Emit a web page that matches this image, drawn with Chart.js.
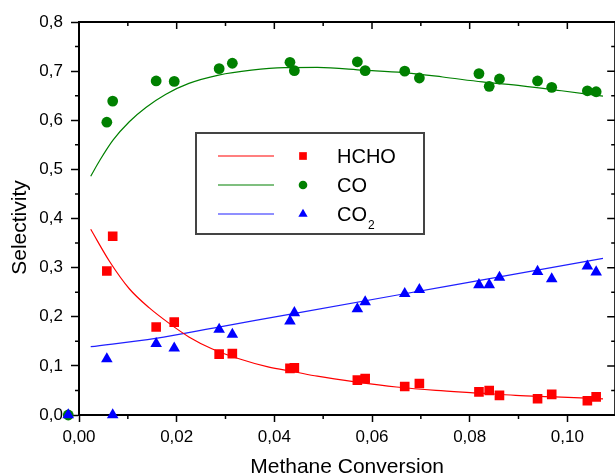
<!DOCTYPE html>
<html>
<head>
<meta charset="utf-8">
<script src="https://cdn.jsdelivr.net/npm/chart.js@4.4.1/dist/chart.umd.min.js"></script>
<style>
  html, body { margin: 0; padding: 0; background: #fff; overflow: hidden; }
  canvas { display: block; }
</style>
</head>
<body>
<canvas id="selChart" width="622" height="475"></canvas>
<script>
// measured runs; the last one sits just left of the y axis in the original plot
var conversion = [0.0057, 0.0069, 0.0158, 0.0195, 0.0287, 0.0314, 0.0432, 0.0441, 0.0570, 0.0586,
                  0.0667, 0.0697, 0.0819, 0.0840, 0.0861, 0.0939, 0.0968, 0.1041, 0.1059, -0.0022];
var hcho = [0.293, 0.364, 0.179, 0.189, 0.124, 0.125, 0.095, 0.096, 0.071, 0.074,
            0.058, 0.064, 0.047, 0.050, 0.040, 0.033, 0.042, 0.029, 0.037, null];
var co   = [0.596, 0.639, 0.680, 0.679, 0.705, 0.716, 0.718, 0.701, 0.719, 0.701,
            0.700, 0.686, 0.695, 0.669, 0.684, 0.680, 0.667, 0.660, 0.658, 0.0];
var co2  = [0.114, 0.0, 0.145, 0.136, 0.174, 0.164, 0.191, 0.208, 0.216, 0.230,
            0.247, 0.255, 0.265, 0.265, 0.280, 0.292, 0.277, 0.303, 0.291, 0.0];

// fitted curves
var hchoFitX = [0.0024, 0.0063, 0.0103, 0.0144, 0.0184, 0.0225, 0.0272, 0.0326, 0.0387, 0.0441,
                0.0488, 0.0569, 0.0650, 0.0731, 0.0813, 0.0894, 0.0975, 0.1073];
var hchoFitY = [0.378, 0.312, 0.257, 0.218, 0.187, 0.159, 0.135, 0.115, 0.098, 0.088,
                0.079, 0.067, 0.057, 0.050, 0.045, 0.040, 0.037, 0.033];
var coFitX = [0.0024, 0.0043, 0.0070, 0.0103, 0.0137, 0.0178, 0.0225, 0.0286, 0.0353, 0.0421,
              0.0488, 0.0583, 0.0664, 0.0745, 0.0826, 0.0907, 0.0988, 0.1073];
var coFitY = [0.486, 0.519, 0.560, 0.597, 0.626, 0.653, 0.675, 0.692, 0.702, 0.707,
              0.7075, 0.702, 0.697, 0.688, 0.678, 0.670, 0.660, 0.649];
var co2FitX = [0.0024, 0.0157, 0.0286, 0.0448, 0.0752, 0.1073];
var co2FitY = [0.139, 0.156, 0.179, 0.208, 0.262, 0.319];

var xTickLabels = ['0,00', '0,02', '0,04', '0,06', '0,08', '0,10'];
var yTickLabels = ['0,0', '0,1', '0,2', '0,3', '0,4', '0,5', '0,6', '0,7', '0,8'];
var seriesNames = ['HCHO', 'CO', 'CO2'];

var RED = '#ff0000', GREEN = '#008000', BLUE = '#0000ff';
var FONT = "'Liberation Sans', Arial, sans-serif";

function pts(xs, ys) {
  return xs.map(function (x, i) { return { x: x, y: ys[i] }; })
           .filter(function (p) { return p.y !== null; });
}

// top/right axes, minor ticks, y title and the boxed legend
var framePlugin = {
  id: 'frame',
  beforeDatasetsDraw: function (chart) {
    var ctx = chart.ctx, a = chart.chartArea;
    var xs = chart.scales.x, ys = chart.scales.y;
    ctx.save();
    ctx.strokeStyle = '#000';
    ctx.lineWidth = 2;
    ctx.beginPath();
    ctx.moveTo(a.left - 1, a.top); ctx.lineTo(a.right + 1, a.top);
    ctx.moveTo(a.right, a.top); ctx.lineTo(a.right, a.bottom);
    ctx.stroke();

    ctx.lineWidth = 1.5;
    ctx.beginPath();
    var xHalf = (xs.ticks[1].value - xs.ticks[0].value) / 2;
    xs.ticks.forEach(function (t) {
      var px = xs.getPixelForValue(t.value);
      ctx.moveTo(px, a.top); ctx.lineTo(px, a.top + 7);
      if (t.value + xHalf < xs.max) {
        var pm = xs.getPixelForValue(t.value + xHalf);
        ctx.moveTo(pm, a.top); ctx.lineTo(pm, a.top + 4);
        ctx.moveTo(pm, a.bottom); ctx.lineTo(pm, a.bottom + 4);
      }
    });
    var yHalf = (ys.ticks[1].value - ys.ticks[0].value) / 2;
    ys.ticks.forEach(function (t) {
      var py = ys.getPixelForValue(t.value);
      ctx.moveTo(a.right, py); ctx.lineTo(a.right - 8, py);
      if (t.value + yHalf < ys.max) {
        var pm = ys.getPixelForValue(t.value + yHalf);
        ctx.moveTo(a.left, pm); ctx.lineTo(a.left - 4, pm);
        ctx.moveTo(a.right, pm); ctx.lineTo(a.right - 4, pm);
      }
    });
    ctx.stroke();

    // y axis title
    ctx.translate(26, (a.top + a.bottom) / 2 + 9);
    ctx.rotate(-Math.PI / 2);
    ctx.fillStyle = '#000';
    ctx.font = '21px ' + FONT;
    ctx.textAlign = 'center';
    ctx.textBaseline = 'alphabetic';
    ctx.fillText('Selectivity', 0, 0);
    ctx.restore();
  },
  // Chart.js skips points outside the chart area; the original shows the
  // run left of the axis, so draw those elements here (CO below CO2)
  afterDatasetsDraw: function (chart) {
    var ctx = chart.ctx, xs = chart.scales.x;
    ctx.save();
    [1, 0, 2].forEach(function (di) {
      chart.getDatasetMeta(di).data.forEach(function (el) {
        if (el.x < xs.left - 1) {
          ctx.fillStyle = el.options.backgroundColor;
          Chart.helpers.drawPoint(ctx, el.options, el.x, el.y);
        }
      });
    });
    ctx.restore();
  },
  afterDraw: function (chart) {
    var ctx = chart.ctx;
    ctx.save();
    ctx.fillStyle = '#fff';
    ctx.fillRect(196, 133, 228, 101);
    ctx.strokeStyle = '#444';
    ctx.lineWidth = 2;
    ctx.strokeRect(196, 133, 228, 101);
    for (var i = 0; i < 3; i++) {
      var fit = chart.data.datasets[i + 3];
      var mark = chart.data.datasets[i];
      var y = 156 + i * 29;
      ctx.strokeStyle = fit.borderColor;
      ctx.lineWidth = 1.2;
      ctx.beginPath();
      ctx.moveTo(218, y); ctx.lineTo(274, y);
      ctx.stroke();
      ctx.fillStyle = mark.backgroundColor;
      Chart.helpers.drawPoint(ctx, {
        pointStyle: mark.pointStyle, radius: mark.pointRadius * 0.8,
        borderWidth: 0, rotation: 0
      }, 303, y);
      var name = seriesNames[i];
      var main = name.replace(/\d+$/, ''), sub = name.slice(main.length);
      ctx.fillStyle = '#000';
      ctx.font = '20px ' + FONT;
      ctx.textAlign = 'left';
      ctx.textBaseline = 'middle';
      ctx.fillText(main, 337, y + 1);
      if (sub) {
        var w = ctx.measureText(main).width;
        ctx.font = '12px ' + FONT;
        ctx.textBaseline = 'alphabetic';
        ctx.fillText(sub, 337 + w + 1, y + 15);
      }
    }
    ctx.restore();
  }
};

new Chart(document.getElementById('selChart'), {
  type: 'scatter',
  data: {
    datasets: [{
      label: seriesNames[0], data: pts(conversion, hcho), order: 1,
      pointStyle: 'rect', pointRadius: 6.8, backgroundColor: RED, borderWidth: 0
    }, {
      label: seriesNames[1], data: pts(conversion, co), order: 2, clip: false,
      pointStyle: 'circle', pointRadius: 5.4, backgroundColor: GREEN, borderWidth: 0
    }, {
      label: seriesNames[2], data: pts(conversion, co2), order: 0, clip: false,
      pointStyle: 'triangle', pointRadius: 6.7, backgroundColor: BLUE, borderWidth: 0
    }, {
      label: 'HCHO fit', data: pts(hchoFitX, hchoFitY), order: 3, showLine: true,
      pointRadius: 0, borderColor: RED, borderWidth: 1.2, cubicInterpolationMode: 'monotone'
    }, {
      label: 'CO fit', data: pts(coFitX, coFitY), order: 3, showLine: true,
      pointRadius: 0, borderColor: GREEN, borderWidth: 1.2, cubicInterpolationMode: 'monotone'
    }, {
      label: 'CO2 fit', data: pts(co2FitX, co2FitY), order: 3, showLine: true,
      pointRadius: 0, borderColor: '#2020ff', borderWidth: 1.2, cubicInterpolationMode: 'monotone'
    }]
  },
  options: {
    responsive: false,
    animation: false,
    layout: { padding: { top: 22, right: 0, bottom: 0, left: 0 } },
    plugins: { legend: { display: false }, tooltip: { enabled: false } },
    scales: {
      x: {
        type: 'linear', min: 0, max: 0.1098,
        afterFit: function (s) { s.height = 60; },
        border: { display: true, color: '#000', width: 2 },
        grid: { drawOnChartArea: false, drawTicks: true, tickLength: 7, tickWidth: 1.5, tickColor: '#000' },
        ticks: {
          stepSize: 0.02, includeBounds: false, padding: 5, color: '#000', maxRotation: 0, autoSkip: false,
          font: { family: FONT, size: 17 },
          callback: function (v, i) { return xTickLabels[i]; }
        },
        title: {
          display: true, text: 'Methane Conversion', color: '#000', padding: 0,
          font: { family: FONT, size: 21, lineHeight: 0.7 }
        }
      },
      y: {
        min: 0, max: 0.8,
        afterFit: function (s) { s.width = 79; },
        border: { display: true, color: '#000', width: 2 },
        grid: { drawOnChartArea: false, drawTicks: true, tickLength: 8, tickWidth: 1.5, tickColor: '#000' },
        ticks: {
          stepSize: 0.1, padding: 8, color: '#000', autoSkip: false,
          font: { family: FONT, size: 17 },
          callback: function (v, i) { return yTickLabels[i]; }
        }
      }
    }
  },
  plugins: [framePlugin]
});
</script>
</body>
</html>
